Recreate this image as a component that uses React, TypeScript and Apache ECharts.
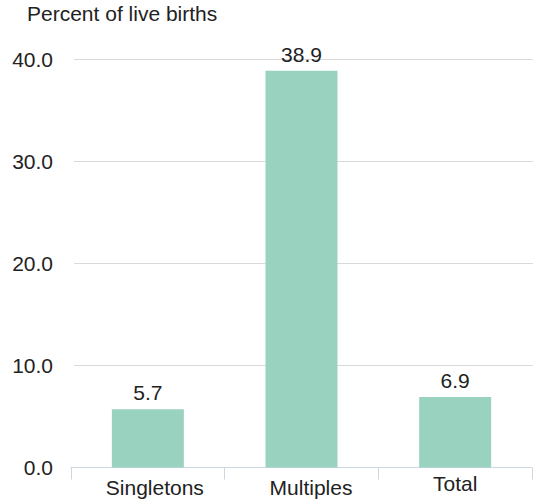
import React, { useEffect, useRef } from "react";
import * as echarts from "echarts";

const categories = ["Singletons", "Multiples", "Total"];
const values = [5.7, 38.9, 6.9];
const yTicks = [0, 10, 20, 30, 40];
const titleText = "Percent of live births";

const FONT = "'Liberation Sans', Arial, Helvetica, sans-serif";
const BAR = "#99d2bf";
const FS = 21;

export default function App() {
  const ref = useRef<HTMLDivElement>(null);
  useEffect(() => {
    if (!ref.current) return;
    const chart = echarts.init(ref.current, undefined, { renderer: "svg" });
    const yMin = yTicks[0];
    const yMax = yTicks[yTicks.length - 1];
    const yInt = yTicks[1] - yTicks[0];
    chart.setOption({
      animation: false,
      title: {
        text: titleText,
        left: 27,
        top: 3,
        padding: 0,
        textStyle: { fontFamily: FONT, fontSize: FS, fontWeight: "normal", color: "#222" },
      },
      grid: [
        { left: 71, right: 2, top: 59.5, bottom: 31.5, outerBoundsMode: "none", containLabel: false },
        { left: 74, right: 1, top: 59.5, bottom: 31.5, outerBoundsMode: "none", containLabel: false },
      ],
      xAxis: [
        {
          type: "category",
          gridIndex: 0,
          data: categories.map((c, i) => ({
            value: c,
            textStyle:
              i === 1
                ? { padding: [4, 0, 0, 19] }
                : i === 0
                ? { padding: [4, 0, 0, 14] }
                : { padding: [0, 0, 0, 0] },
          })),
          axisLine: { show: true, lineStyle: { color: "#cdd7e2", width: 1 } },
          axisTick: { show: true, length: 12, lineStyle: { color: "#cdd7e2" } },
          axisLabel: { fontFamily: FONT, fontSize: FS, color: "#222", margin: 5 },
        },
        { type: "value", gridIndex: 1, show: false, min: 0, max: 1 },
      ],
      yAxis: [
        {
          type: "value",
          gridIndex: 0,
          min: yMin,
          max: yMax,
          interval: yInt,
          splitLine: { show: false },
          axisLine: { show: false },
          axisTick: { show: false },
          axisLabel: {
            fontFamily: FONT,
            fontSize: FS,
            color: "#222",
            margin: 18,
            formatter: (v: number) => v.toFixed(1),
          },
        },
        {
          type: "value",
          gridIndex: 1,
          min: yMin,
          max: yMax,
          interval: yInt,
          axisLine: { show: false },
          axisTick: { show: false },
          axisLabel: { show: false },
          splitLine: { show: true, showMinLine: false, lineStyle: { color: "#dadada", width: 1 } },
        },
      ],
      series: [
        {
          type: "bar",
          xAxisIndex: 0,
          yAxisIndex: 0,
          data: values,
          barWidth: 72,
          itemStyle: { color: BAR },
          label: {
            show: true,
            position: "top",
            distance: 6,
            fontFamily: FONT,
            fontSize: FS,
            color: "#222",
            formatter: (p: any) => Number(p.value).toFixed(1),
          },
        },
      ],
    });
    return () => chart.dispose();
  }, []);
  return (
    <div
      ref={ref}
      style={{ position: "fixed", left: 0, top: 0, width: 534, height: 499, background: "#fff" }}
    />
  );
}
